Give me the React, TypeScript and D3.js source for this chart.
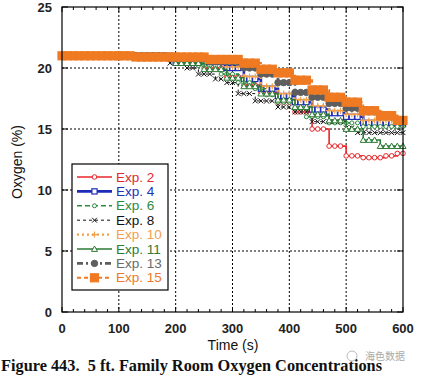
import React from "react";
import * as d3 from "d3";

const times = [0,10,20,30,40,50,60,70,80,90,100,110,120,130,140,150,160,170,180,190,200,210,220,230,240,250,260,270,280,290,300,310,320,330,340,350,360,370,380,390,400,410,420,430,440,450,460,470,480,490,500,510,520,530,540,550,560,570,580,590,600];

const exp2 = [21,21,21,21,21,21,21,21,21,21,21,21,21,21,21,21,21,21,21,21,20.6,20.6,20.6,20.6,20.6,20,20,20,20,19.3,19.3,19.3,18.6,18.6,18.6,18,18,18,17.2,17.2,17.2,16.4,16.4,16.4,15,15,15,13.6,13.6,13.6,12.8,12.8,12.8,12.65,12.65,12.65,12.65,12.8,12.8,13,13];
const exp4 = [21,21,21,21,21,21,21,21,21,21,21,21,21,21,21,21,21,21,21,21,20.5,20.5,20.5,20.5,20.5,20.5,20.5,20.5,20.5,20,20,20,19.1,19.1,19.1,18.3,18.3,18.3,17.7,17.7,17.7,17.2,17.2,17.2,16.6,16.6,16.6,16.3,16.3,16.3,16,16,16,15.5,15.5,15.5,15.5,15.5,15.5,15.5,15.4];
const exp6 = [21,21,21,21,21,21,21,21,21,21,21,21,21,21,21,21,21,21,21,21,20.5,20.5,20.5,20.5,20.2,20.2,20.2,20.2,19.5,19.5,19.5,18.8,18.8,18.8,18.3,18.3,17.8,17.8,17.2,17.2,17.2,16.7,16.7,16,16,16,16,15.5,15.5,15.5,15.5,15.5,15.5,15.2,15.2,15.2,15.2,15.2,15.2,15.2,15.2];
const exp8 = [21,21,21,21,21,21,21,21,21,21,21,21,21,21,21,21,21,21,21,20.4,20.4,20.4,20,20,19.5,19.5,19.5,19.1,19.1,18.8,18.8,17.9,17.9,17.9,17.3,17.3,17.3,17.3,16.8,16.8,16.8,16.4,16.4,16.4,15.6,15.6,15.6,15.6,15.6,15.6,15.1,15.1,14.7,14.7,14.7,14.7,14.7,14.7,14.7,14.7,14.7];
const exp10 = [21,21,21,21,21,21,21,21,21,21,21,21,21,21,21,21,21,21,21,21,20.6,20.6,20.6,20.6,20.6,20.6,20.6,20.6,20.6,20.1,20.1,20.1,19.3,19.3,19.3,18.5,18.5,18.5,17.9,17.9,17.9,17.4,17.4,17.4,16.9,16.9,16.9,16.5,16.5,16.5,16.2,16.2,16.2,15.7,15.7,15.7,15.7,15.7,15.7,15.7,15.6];
const exp11 = [21,21,21,21,21,21,21,21,21,21,21,21,21,21,21,21,21,21,21,21,20.4,20.4,20.4,20.4,20.4,19.9,19.9,19.9,19.9,19.2,19.2,19.2,18.5,18.5,18.5,17.9,17.9,17.9,17.4,17.4,17.4,16.8,16.8,16.8,16.2,16.2,16.2,15.7,15.7,15.7,15,15,15,14.1,14.1,14.1,13.6,13.6,13.6,13.6,13.6];
const exp13 = [21,21,21,21,21,21,21,21,21,21,21,21,21,21,21,21,21,21,21,20.8,20.8,20.8,20.8,20.8,20.8,20.8,20.5,20.5,20.5,20.5,20.5,20.5,20,20,20,19.5,19.5,19.5,18.8,18.8,18.8,18,18,18,17.6,17.6,17.6,17.1,17.1,17.1,16.7,16.7,16.7,16.4,16.4,16.4,16,16,16,15.7,15.7];
const exp15 = [21,21,21,21,21,21,21,21,21,21,21,21,21,20.9,20.9,20.9,20.9,20.9,20.9,20.9,20.9,20.9,20.9,20.9,20.9,20.9,20.7,20.7,20.7,20.7,20.7,20.7,20.4,20.4,20.4,19.9,19.9,19.9,19.6,19.6,19.6,19,19,19,18.2,18.2,18.2,17.6,17.6,17.6,17.2,17.2,17.2,16.5,16.5,16.5,16.1,16.1,16.1,15.7,15.7];

const seriesNames = ["Exp. 2","Exp. 4","Exp. 6","Exp. 8","Exp. 10","Exp. 11","Exp. 13","Exp. 15"];
const seriesValues = [exp2, exp4, exp6, exp8, exp10, exp11, exp13, exp15];
const xTicks = [0,100,200,300,400,500,600];
const yTicks = [0,5,10,15,20,25];
const xLabel = "Time (s)";
const yLabel = "Oxygen (%)";
const caption = "Figure 443.  5 ft. Family Room Oxygen Concentrations";

type Style = { color: string; width: number; dash: string; marker: string; size: number; fill: boolean; textColor: string };
const styles: Style[] = [
  { color: "#e8262c", width: 1.6, dash: "", marker: "circle", size: 2.3, fill: false, textColor: "#e02a2e" },
  { color: "#1c2cb8", width: 2.6, dash: "", marker: "square", size: 2.6, fill: false, textColor: "#2230b8" },
  { color: "#2e8b3e", width: 1.6, dash: "5,3", marker: "circle", size: 2.0, fill: false, textColor: "#2e8b3e" },
  { color: "#111111", width: 1.0, dash: "3,3", marker: "x", size: 2.4, fill: false, textColor: "#111111" },
  { color: "#f2a04a", width: 2.4, dash: "2,3", marker: "plus", size: 3, fill: false, textColor: "#f0a050" },
  { color: "#2c7a34", width: 1.6, dash: "", marker: "triangle", size: 3, fill: false, textColor: "#2c7a34" },
  { color: "#5e5e5e", width: 2.6, dash: "6,3,2,3", marker: "circle", size: 3.2, fill: true, textColor: "#6a6a6a" },
  { color: "#ef7a22", width: 2.0, dash: "4,3", marker: "square", size: 4, fill: true, textColor: "#ec7a2c" },
];

const W = 422, H = 377;
const x = d3.scaleLinear().domain([0, 600]).range([62, 403]);
const y = d3.scaleLinear().domain([0, 25]).range([312, 7]);

function Marker({ kind, cx, cy, s, color, fill }: { kind: string; cx: number; cy: number; s: number; color: string; fill: boolean }) {
  const f = fill ? color : "white";
  if (kind === "circle") return <circle cx={cx} cy={cy} r={s} fill={f} stroke={color} strokeWidth={1} />;
  if (kind === "square") return <rect x={cx - s} y={cy - s} width={2 * s} height={2 * s} fill={f} stroke={color} strokeWidth={1.2} />;
  if (kind === "triangle") return <path d={`M${cx},${cy - s}L${cx + s},${cy + s * 0.8}L${cx - s},${cy + s * 0.8}Z`} fill={f} stroke={color} strokeWidth={1} />;
  if (kind === "x") return <path d={`M${cx - s},${cy - s}L${cx + s},${cy + s}M${cx - s},${cy + s}L${cx + s},${cy - s}`} stroke={color} strokeWidth={1} />;
  return <path d={`M${cx - s},${cy}L${cx + s},${cy}M${cx},${cy - s}L${cx},${cy + s}`} stroke={color} strokeWidth={1.2} />;
}

export default function App() {
  const line = d3.line<number>().x((_, i) => x(times[i])).y((v) => y(v)).curve(d3.curveStepAfter);
  const minor = d3.range(0, 601, 20);
  const legX = 72, legY = 164, legW = 96, legH = 126;
  const rowY = (i: number) => legY + 13 + i * 14.4;
  return (
    <svg width={W} height={H} style={{ position: "absolute", left: 0, top: 0, background: "white" }} fontFamily="Arial, 'Liberation Sans', sans-serif">
      <rect x={0} y={0} width={W} height={H} fill="white" />
      {xTicks.slice(1, -1).map((t) => (
        <line key={"gx" + t} x1={x(t)} x2={x(t)} y1={y(25)} y2={y(0)} stroke="#000" strokeWidth={1} strokeDasharray="2,2" />
      ))}
      {yTicks.slice(1, -1).map((t) => (
        <line key={"gy" + t} x1={x(0)} x2={x(600)} y1={y(t)} y2={y(t)} stroke="#000" strokeWidth={1} strokeDasharray="2,2" />
      ))}
      {minor.map((t) => {
        const major = t % 100 === 0;
        const l = major ? 5 : 3;
        return (
          <g key={"tx" + t}>
            <line x1={x(t)} x2={x(t)} y1={y(0)} y2={y(0) - l} stroke="#000" />
            <line x1={x(t)} x2={x(t)} y1={y(25)} y2={y(25) + l} stroke="#000" />
          </g>
        );
      })}
      {yTicks.map((t) => (
        <g key={"ty" + t}>
          <line x1={x(0)} x2={x(0) + 6} y1={y(t)} y2={y(t)} stroke="#000" />
          <line x1={x(600)} x2={x(600) - 6} y1={y(t)} y2={y(t)} stroke="#000" />
        </g>
      ))}
      {seriesValues.map((vals, si) => {
        const st = styles[si];
        return (
          <g key={"s" + si}>
            <path d={line(vals) || ""} fill="none" stroke={st.color} strokeWidth={st.width} strokeDasharray={st.dash} />
            {vals.map((v, i) => (
              <Marker key={i} kind={st.marker} cx={x(times[i])} cy={y(v)} s={st.size} color={st.color} fill={st.fill} />
            ))}
          </g>
        );
      })}
      <rect x={x(0)} y={y(25)} width={x(600) - x(0)} height={y(0) - y(25)} fill="none" stroke="#000" strokeWidth={1.2} />
      {xTicks.map((t) => (
        <text key={"lx" + t} x={x(t)} y={333} textAnchor="middle" fontSize={13} fontWeight="bold" fill="#222">{t}</text>
      ))}
      {yTicks.map((t) => (
        <text key={"ly" + t} x={52} y={y(t) + 5} textAnchor="end" fontSize={13} fontWeight="bold" fill="#222">{t}</text>
      ))}
      <text x={233} y={350} textAnchor="middle" fontSize={14} fill="#111">{xLabel}</text>
      <text transform="translate(22,162) rotate(-90)" textAnchor="middle" fontSize={14} fill="#111">{yLabel}</text>
      <rect x={legX} y={legY} width={legW} height={legH} fill="white" stroke="#000" strokeWidth={1.2} />
      {seriesNames.map((n, i) => {
        const st = styles[i];
        const cy = rowY(i);
        return (
          <g key={"lg" + i}>
            <line x1={77} x2={112} y1={cy} y2={cy} stroke={st.color} strokeWidth={st.width} strokeDasharray={st.dash} />
            <Marker kind={st.marker} cx={94.5} cy={cy} s={st.size} color={st.color} fill={st.fill} />
            <text x={116} y={cy + 4.5} fontSize={13.5} fill={st.textColor}>{n}</text>
          </g>
        );
      })}
      <text x={1} y={371} fontFamily="'Liberation Serif', 'Times New Roman', serif" fontWeight="bold" fontSize={16} fill="#111" style={{ whiteSpace: "pre" }} textLength={381} lengthAdjust="spacingAndGlyphs">{caption}</text>
      <circle cx={352} cy={356} r={5} fill="none" stroke="#bbb" strokeWidth={1} />
      <text x={365} y={360} fontFamily="'Noto Sans CJK SC', sans-serif" fontSize={10} fill="#aaa">海色数据</text>
    </svg>
  );
}
